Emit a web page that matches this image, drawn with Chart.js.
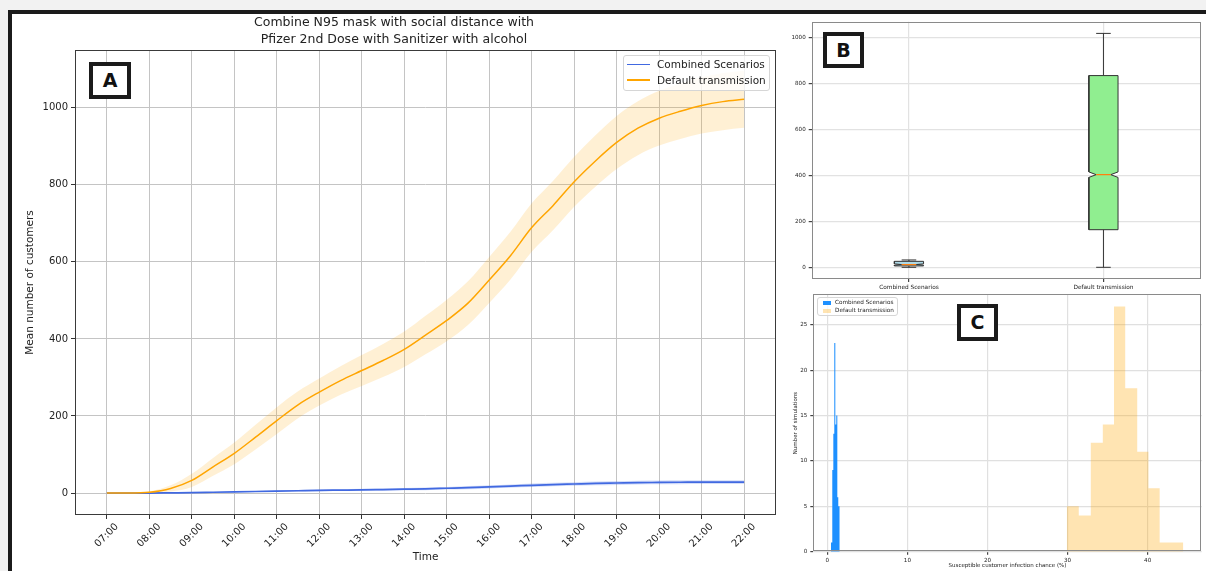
<!DOCTYPE html>
<html>
<head>
<meta charset="utf-8">
<script src="https://cdn.jsdelivr.net/npm/chart.js@4.4.0/dist/chart.umd.min.js"></script>
<style>
  html, body { margin: 0; padding: 0; }
  body { width: 1206px; height: 571px; background: #f2f2f2; position: relative; overflow: hidden;
         font-family: 'DejaVu Sans', sans-serif; color: #1b1b1b; }
  #moldura { position: absolute; left: 8px; top: 10px; width: 1200px; height: 565px; background: #fff;
             border-top: 4px solid #1b1b1b; border-left: 4px solid #1b1b1b; }
  canvas { position: absolute; }
  #grafA { left: 12px; top: 14px; }
  #grafB { left: 780px; top: 14px; }
  #grafC { left: 780px; top: 288px; }
  .etiqueta { position: absolute; box-sizing: border-box; border: 4px solid #1b1b1b; background: #fff;
              font-weight: bold; font-size: 19px; line-height: 29px; text-align: center; color: #111; }
  .legenda { position: absolute; box-sizing: border-box; border: 1px solid #d6d6d6; border-radius: 3px;
             background: rgba(255,255,255,0.8); }
  .legenda .amostra { position: absolute; }
  .legenda .texto { position: absolute; color: #222; white-space: nowrap; }
</style>
</head>
<body>
<div id="moldura"></div>
<canvas id="grafA" width="766" height="557"></canvas>
<canvas id="grafB" width="426" height="282"></canvas>
<canvas id="grafC" width="426" height="283"></canvas>

<div class="etiqueta" style="left:89px;top:62px;width:42px;height:37px;">A</div>
<div class="etiqueta" style="left:823px;top:32px;width:41px;height:36px;">B</div>
<div class="etiqueta" style="left:957px;top:304px;width:41px;height:37px;">C</div>

<div class="legenda" id="legendaA" style="left:623px;top:55px;width:147px;height:36px;"></div>
<div class="legenda" id="legendaC" style="left:817px;top:297px;width:81px;height:19px;"></div>

<script>
// ── Paleta ──────────────────────────────────────────────
var AZUL        = '#4169e1';
var LARANJA     = '#ffa500';
var AZUL_HIST   = '#1e90ff';
var LARANJA_HIST = 'rgba(255,165,0,0.3)';
var FAIXA_LARANJA = 'rgba(255,165,0,0.17)';
var FAIXA_AZUL  = 'rgba(65,105,225,0.22)';
var VERDE_CAIXA = '#90ee90';
var AZUL_CAIXA  = '#add8e6';
var MEDIANA     = '#ff7f0e';
var TEXTO       = '#222';
var GRADE       = '#c4c4c4';

Chart.defaults.font.family = "'DejaVu Sans', sans-serif";
Chart.defaults.color = TEXTO;
Chart.defaults.animation = false;

// ── Dados A: média de clientes ao longo do dia ───────────
var SERIES = ['Combined Scenarios', 'Default transmission'];
var HORAS = [7, 7.5, 8, 8.5, 9, 9.5, 10, 10.5, 11, 11.5, 12, 12.5, 13, 13.5, 14, 14.5,
             15, 15.5, 16, 16.5, 17, 17.5, 18, 18.5, 19, 19.5, 20, 20.5, 21, 21.5, 22];
var TICKS_HORA = [7, 8, 9, 10, 11, 12, 13, 14, 15, 16, 17, 18, 19, 20, 21, 22];
var ROTULOS_HORA = ['07:00', '08:00', '09:00', '10:00', '11:00', '12:00', '13:00', '14:00',
                    '15:00', '16:00', '17:00', '18:00', '19:00', '20:00', '21:00', '22:00'];
var TICKS_Y_A = [0, 200, 400, 600, 800, 1000];

var mediaPadrao = [0, 0, 2, 12, 33, 68, 103, 145, 188, 229, 262, 292, 318, 344, 373, 410,
                   448, 493, 553, 616, 689, 746, 808, 862, 910, 947, 973, 991, 1006, 1016, 1022];
var superiorPadrao = [0, 0, 4, 20, 50, 91, 131, 177, 223, 264, 297, 329, 358, 387, 419, 460,
                      502, 550, 613, 678, 752, 810, 873, 929, 979, 1017, 1044, 1063, 1079, 1090, 1096];
var inferiorPadrao = [0, 0, 0, 4, 16, 45, 75, 113, 153, 194, 227, 255, 278, 301, 327, 360,
                      394, 436, 493, 554, 626, 682, 743, 795, 841, 877, 902, 919, 933, 942, 948];

var mediaComb = [0, 0, 0, 0.5, 1, 2, 3, 4, 5, 6, 7, 7.5, 8, 9, 10, 11,
                 12.5, 14, 16, 18, 20, 22, 23.5, 25, 26, 27, 27.5, 28, 28.5, 28.5, 28.5];
var superiorComb = [0, 0, 0, 1, 2, 3, 4.5, 5.5, 7, 8, 9.5, 10, 11, 12, 13, 14.5,
                    16, 18, 20, 22, 24.5, 26.5, 28, 30, 31, 32, 32.5, 33, 33.5, 33.5, 33.5];
var inferiorComb = [0, 0, 0, 0, 0, 1, 1.5, 2.5, 3, 4, 4.5, 5, 5, 6, 7, 7.5,
                    9, 10, 12, 14, 15.5, 17.5, 19, 20, 21, 22, 22.5, 23, 23.5, 23.5, 23.5];

// ── Dados B: boxplot ─────────────────────────────────────
var CATEGORIAS_B = ['Combined Scenarios', 'Default transmission'];
var CORES_CAIXA = [AZUL_CAIXA, VERDE_CAIXA];
var caixaMin     = [0, 0];
var caixaQ1      = [6, 164];
var caixaMediana = [12, 404];
var caixaQ3      = [26, 836];
var caixaMax     = [32, 1020];
var caixaEntalhe = [3, 12];
var TICKS_Y_B = [0, 200, 400, 600, 800, 1000];

// ── Dados C: histogramas ─────────────────────────────────
var bordasComb = [0.46, 0.62, 0.75, 0.87, 1.0, 1.12, 1.25, 1.37, 1.55];
var contagemComb = [1, 9, 13, 23, 14, 15, 6, 5];
var bordasPadrao = [29.9, 31.4, 32.9, 34.4, 35.8, 37.2, 38.7, 40.1, 41.5, 43.0, 44.45];
var contagemPadrao = [5, 4, 12, 14, 27, 18, 11, 7, 1, 1];
var TICKS_X_C = [0, 10, 20, 30, 40];
var TICKS_Y_C = [0, 5, 10, 15, 20, 25];

// ── Auxiliares ───────────────────────────────────────────
function pares(xs, ys) {
  var out = [];
  for (var i = 0; i < xs.length; i++) out.push({ x: xs[i], y: ys[i] });
  return out;
}
function fixarTicks(lista) {
  return function(scale) {
    scale.ticks = lista.map(function(v) { return { value: v }; });
  };
}
function largura(w) { return function(scale) { scale.width = w; }; }
function altura(h) { return function(scale) { scale.height = h; }; }
function semVirgula(v) { return String(v); }

// contorno do gráfico (spines)
var contorno = {
  id: 'contorno',
  afterDatasetsDraw: function(chart, args, opts) {
    var a = chart.chartArea, c = chart.ctx;
    c.save();
    c.strokeStyle = opts.color || '#444';
    c.lineWidth = 1;
    c.strokeRect(Math.round(a.left) + 0.5, Math.round(a.top) + 0.5,
                 Math.round(a.right - a.left) - 1, Math.round(a.bottom - a.top) - 1);
    c.restore();
  }
};

function linhaBase(dados, cor, largura) {
  return {
    data: dados, borderColor: cor, borderWidth: largura, pointRadius: 0,
    cubicInterpolationMode: 'monotone', fill: false
  };
}

// ── A. LINHAS — média de clientes ────────────────────────
var dsA = [
  linhaBase(pares(HORAS, mediaPadrao), LARANJA, 1.5),
  linhaBase(pares(HORAS, mediaComb), AZUL, 1.7),
  Object.assign(linhaBase(pares(HORAS, superiorPadrao), 'transparent', 0),
                { fill: '+1', backgroundColor: FAIXA_LARANJA }),
  linhaBase(pares(HORAS, inferiorPadrao), 'transparent', 0),
  Object.assign(linhaBase(pares(HORAS, superiorComb), 'transparent', 0),
                { fill: '+1', backgroundColor: FAIXA_AZUL }),
  linhaBase(pares(HORAS, inferiorComb), 'transparent', 0)
];

new Chart(document.getElementById('grafA'), {
  type: 'line',
  data: { datasets: dsA },
  plugins: [contorno],
  options: {
    responsive: false,
    layout: { padding: { left: 0, right: 2, top: 0, bottom: 0 } },
    plugins: {
      legend: { display: false },
      tooltip: { enabled: false },
      contorno: { color: '#3a3a3a' },
      title: {
        display: true,
        text: ['Combine N95 mask with social distance with', 'Pfizer 2nd Dose with Sanitizer with alcohol'],
        font: { size: 12.5, weight: 'normal', lineHeight: 1.3 },
        color: TEXTO,
        padding: { top: 1, bottom: 2.5 }
      }
    },
    scales: {
      x: {
        type: 'linear', min: 6.25, max: 22.75,
        afterBuildTicks: fixarTicks(TICKS_HORA),
        afterFit: altura(56),
        border: { display: false },
        grid: { color: GRADE, tickColor: '#333', tickLength: 4 },
        ticks: {
          minRotation: 45, maxRotation: 45, autoSkip: false, padding: 2, labelOffset: 10,
          font: { size: 10 }, color: TEXTO,
          callback: function(v) { return ROTULOS_HORA[TICKS_HORA.indexOf(v)]; }
        },
        title: { display: true, text: 'Time', font: { size: 10.5 }, color: TEXTO, padding: { top: 0, bottom: 7 } }
      },
      y: {
        min: -57, max: 1150,
        afterBuildTicks: fixarTicks(TICKS_Y_A),
        afterFit: largura(63),
        border: { display: false },
        grid: { color: GRADE, tickColor: '#333', tickLength: 4 },
        ticks: { font: { size: 10 }, color: TEXTO, padding: 3, callback: semVirgula },
        title: { display: true, text: 'Mean number of customers', font: { size: 10.5 }, color: TEXTO, padding: { top: 12 } }
      }
    }
  }
});

// ── B. BOXPLOT com entalhe ───────────────────────────────
var MEIA_CAIXA = 0.075;
var MEIA_HASTE = 0.0375;

function caixaEntalhada(i) {
  var p = i + 1, w = MEIA_CAIXA;
  var lo = caixaMediana[i] - caixaEntalhe[i], hi = caixaMediana[i] + caixaEntalhe[i];
  return [
    { x: p - w, y: caixaQ1[i] }, { x: p + w, y: caixaQ1[i] }, { x: p + w, y: lo },
    { x: p + w / 2, y: caixaMediana[i] }, { x: p + w, y: hi }, { x: p + w, y: caixaQ3[i] },
    { x: p - w, y: caixaQ3[i] }, { x: p - w, y: hi }, { x: p - w / 2, y: caixaMediana[i] },
    { x: p - w, y: lo }, { x: p - w, y: caixaQ1[i] }
  ];
}
function bigodes(i) {
  var p = i + 1, c = MEIA_HASTE;
  return [
    { x: p, y: caixaMin[i] }, { x: p, y: caixaQ1[i] }, { x: p, y: null },
    { x: p, y: caixaQ3[i] }, { x: p, y: caixaMax[i] }, { x: p, y: null },
    { x: p - c, y: caixaMin[i] }, { x: p + c, y: caixaMin[i] }, { x: p, y: null },
    { x: p - c, y: caixaMax[i] }, { x: p + c, y: caixaMax[i] }
  ];
}
function linhaMediana(i) {
  var p = i + 1;
  return [{ x: p - MEIA_CAIXA / 2, y: caixaMediana[i] }, { x: p + MEIA_CAIXA / 2, y: caixaMediana[i] }];
}

var dsB = [];
CATEGORIAS_B.forEach(function(nome, i) {
  dsB.push({ data: linhaMediana(i), borderColor: MEDIANA, borderWidth: 1.2, pointRadius: 0, tension: 0 });
  dsB.push({ data: caixaEntalhada(i), borderColor: '#333', borderWidth: 1, backgroundColor: CORES_CAIXA[i],
             fill: 'shape', pointRadius: 0, tension: 0 });
  dsB.push({ data: bigodes(i), borderColor: '#333', borderWidth: 1, pointRadius: 0, tension: 0, spanGaps: false });
});

new Chart(document.getElementById('grafB'), {
  type: 'line',
  data: { datasets: dsB },
  plugins: [contorno],
  options: {
    responsive: false,
    layout: { padding: { left: 0, right: 5.3, top: 7.7, bottom: 0 } },
    plugins: { legend: { display: false }, tooltip: { enabled: false }, contorno: { color: '#8a8a8a' } },
    scales: {
      x: {
        type: 'linear', min: 0.5, max: 2.5,
        afterBuildTicks: fixarTicks([1, 2]),
        afterFit: altura(17),
        border: { display: false },
        grid: { color: '#e2e2e2', lineWidth: 1.2, tickColor: '#444', tickLength: 3 },
        ticks: { font: { size: 5.8 }, color: TEXTO, padding: 2, maxRotation: 0,
                 callback: function(v) { return CATEGORIAS_B[v - 1]; } }
      },
      y: {
        min: -51, max: 1071,
        afterBuildTicks: fixarTicks(TICKS_Y_B),
        afterFit: largura(31.7),
        border: { display: false },
        grid: { color: '#e2e2e2', lineWidth: 1.2, tickColor: '#444', tickLength: 3 },
        ticks: { font: { size: 5.6 }, color: TEXTO, padding: 3, callback: semVirgula }
      }
    }
  }
});

// ── C. HISTOGRAMAS ───────────────────────────────────────
function degraus(bordas, contagens) {
  var out = [{ x: bordas[0], y: 0 }];
  for (var i = 0; i < contagens.length; i++) out.push({ x: bordas[i], y: contagens[i] });
  out.push({ x: bordas[bordas.length - 1], y: 0 });
  return out;
}

new Chart(document.getElementById('grafC'), {
  type: 'line',
  data: {
    datasets: [
      { label: SERIES[0], data: degraus(bordasComb, contagemComb), stepped: 'before', fill: 'origin',
        backgroundColor: AZUL_HIST, borderWidth: 0, borderColor: 'transparent', pointRadius: 0 },
      { label: SERIES[1], data: degraus(bordasPadrao, contagemPadrao), stepped: 'before', fill: 'origin',
        backgroundColor: LARANJA_HIST, borderWidth: 0, borderColor: 'transparent', pointRadius: 0 }
    ]
  },
  plugins: [contorno],
  options: {
    responsive: false,
    layout: { padding: { left: 0, right: 4.3, top: 6, bottom: 0 } },
    plugins: { legend: { display: false }, tooltip: { enabled: false }, contorno: { color: '#8a8a8a' } },
    scales: {
      x: {
        type: 'linear', min: -1.75, max: 46.75,
        afterBuildTicks: fixarTicks(TICKS_X_C),
        afterFit: altura(19.3),
        border: { display: false },
        grid: { color: '#e0e0e0', lineWidth: 1.2, tickColor: '#444', tickLength: 3 },
        ticks: { font: { size: 5.6 }, color: TEXTO, padding: 2, maxRotation: 0, callback: semVirgula },
        title: { display: true, text: 'Susceptible customer infection chance (%)', font: { size: 5.5 },
                 color: TEXTO, padding: { top: 0, bottom: 2 } }
      },
      y: {
        min: 0, max: 28.35,
        afterBuildTicks: fixarTicks(TICKS_Y_C),
        afterFit: largura(33.3),
        border: { display: false },
        grid: { color: '#e0e0e0', lineWidth: 1.2, tickColor: '#444', tickLength: 3 },
        ticks: { font: { size: 5.6 }, color: TEXTO, padding: 3, callback: semVirgula },
        title: { display: true, text: 'Number of simulations', font: { size: 5.5 }, color: TEXTO,
                 padding: { top: 12.5 } }
      }
    }
  }
});

// ── Legendas (HTML) ──────────────────────────────────────
function montarLegenda(id, itens, cfg) {
  var caixa = document.getElementById(id);
  itens.forEach(function(it, i) {
    var amostra = document.createElement('div');
    amostra.className = 'amostra';
    amostra.style.left = cfg.amostraX + 'px';
    amostra.style.top = (cfg.y0 + i * cfg.passo - cfg.amostraH / 2) + 'px';
    amostra.style.width = cfg.amostraW + 'px';
    amostra.style.height = cfg.amostraH + 'px';
    amostra.style.background = it.cor;
    caixa.appendChild(amostra);
    var texto = document.createElement('div');
    texto.className = 'texto';
    texto.textContent = it.nome;
    texto.style.left = cfg.textoX + 'px';
    texto.style.fontSize = cfg.fonte + 'px';
    texto.style.lineHeight = cfg.fonte + 'px';
    texto.style.top = (cfg.y0 + i * cfg.passo - cfg.fonte / 2) + 'px';
    caixa.appendChild(texto);
  });
}

montarLegenda('legendaA', [{ nome: SERIES[0], cor: AZUL }, { nome: SERIES[1], cor: LARANJA }],
  { amostraX: 3, amostraW: 23, amostraH: 1.5, textoX: 33, fonte: 10.5, y0: 8.5, passo: 15.3 });
montarLegenda('legendaC', [{ nome: SERIES[0], cor: AZUL_HIST }, { nome: SERIES[1], cor: LARANJA_HIST }],
  { amostraX: 5, amostraW: 8, amostraH: 4, textoX: 17, fonte: 5.7, y0: 4.8, passo: 8 });
</script>
</body>
</html>
